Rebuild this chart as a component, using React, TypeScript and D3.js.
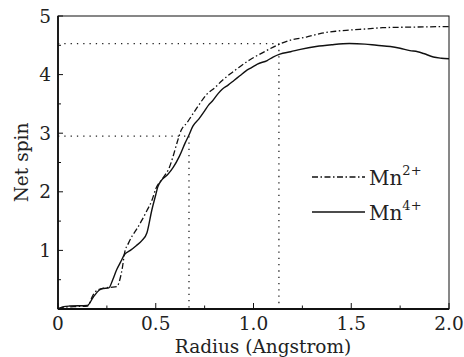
import React from "react";
import * as d3 from "d3";

const mn4X = [0, 0.03, 0.06, 0.15, 0.18, 0.21, 0.23, 0.26, 0.28, 0.30, 0.32, 0.34, 0.37, 0.40, 0.43, 0.455, 0.48, 0.50, 0.51, 0.53, 0.56, 0.59, 0.62, 0.65, 0.67, 0.69, 0.72, 0.75, 0.77, 0.79, 0.82, 0.84, 0.87, 0.90, 0.93, 0.96, 0.99, 1.02, 1.07, 1.10, 1.135, 1.19, 1.24, 1.32, 1.40, 1.49, 1.57, 1.63, 1.70, 1.75, 1.80, 1.84, 1.87, 1.92, 1.96, 2.00];
const mn4Y = [0, 0.04, 0.05, 0.06, 0.2, 0.32, 0.35, 0.36, 0.5, 0.67, 0.8, 0.93, 1.0, 1.08, 1.17, 1.3, 1.69, 1.95, 2.08, 2.2, 2.29, 2.42, 2.6, 2.83, 2.97, 3.12, 3.24, 3.38, 3.48, 3.55, 3.68, 3.75, 3.82, 3.9, 3.98, 4.06, 4.12, 4.18, 4.24, 4.3, 4.35, 4.39, 4.43, 4.48, 4.51, 4.53, 4.52, 4.5, 4.48, 4.45, 4.41, 4.39, 4.36, 4.3, 4.28, 4.27];

const mn2X = [0, 0.03, 0.08, 0.15, 0.18, 0.20, 0.24, 0.27, 0.30, 0.32, 0.33, 0.34, 0.36, 0.38, 0.40, 0.43, 0.455, 0.48, 0.50, 0.54, 0.57, 0.59, 0.61, 0.63, 0.66, 0.68, 0.72, 0.76, 0.80, 0.84, 0.88, 0.92, 0.98, 1.05, 1.12, 1.19, 1.27, 1.34, 1.42, 1.49, 1.58, 1.66, 1.80, 2.00];
const mn2Y = [0, 0.03, 0.04, 0.05, 0.24, 0.32, 0.36, 0.37, 0.38, 0.55, 0.72, 0.95, 1.12, 1.25, 1.35, 1.52, 1.68, 1.85, 2.05, 2.25, 2.42, 2.62, 2.85, 3.05, 3.18, 3.28, 3.48, 3.66, 3.77, 3.9, 4.01, 4.11, 4.25, 4.38, 4.5, 4.59, 4.64, 4.7, 4.74, 4.76, 4.78, 4.8, 4.81, 4.82];

const refX = [0.67, 1.13];
const refY = [2.95, 4.53];

const xTicks = [0, 0.5, 1.0, 1.5, 2.0];
const xTickLabels = ["0", "0.5", "1.0", "1.5", "2.0"];
const xMinor = [0.25, 0.75, 1.25, 1.75];
const yTicks = [1, 2, 3, 4, 5];
const yMinor = [0.5, 1.5, 2.5, 3.5, 4.5];

const W = 464, H = 357;
const L = 58, R = 449, T = 16, B = 309;
const FONT = "'DejaVu Serif', serif";
const txt = { fontFamily: FONT } as React.CSSProperties;

export default function App() {
  const x = d3.scaleLinear().domain([0, 2]).range([L, R]);
  const y = d3.scaleLinear().domain([0, 5]).range([B, T]);
  const line = d3.line<[number, number]>().x(d => x(d[0])).y(d => y(d[1])).curve(d3.curveMonotoneX);
  const mn4 = mn4X.map((v, i) => [v, mn4Y[i]] as [number, number]);
  const mn2 = mn2X.map((v, i) => [v, mn2Y[i]] as [number, number]);

  return (
    <svg width={W} height={H} style={{ position: "absolute", left: 0, top: 0, background: "#fff" }}>
      {refX.map((rx, i) => (
        <g key={"ref" + i} stroke="#222" strokeWidth={1.3} strokeDasharray="1.3,5" fill="none">
          <line x1={L} x2={x(rx)} y1={y(refY[i])} y2={y(refY[i])} />
          <line x1={x(rx)} x2={x(rx)} y1={y(refY[i])} y2={B} />
        </g>
      ))}
      <path d={line(mn2) || ""} fill="none" stroke="#111" strokeWidth={1.3} strokeDasharray="6,2.5,1.5,2.5" />
      <path d={line(mn4) || ""} fill="none" stroke="#111" strokeWidth={1.4} />
      <rect x={L} y={T} width={R - L} height={B - T} fill="none" stroke="#111" strokeWidth={1} />
      <line x1={L} x2={L} y1={T} y2={B} stroke="#111" strokeWidth={1.8} />
      <line x1={L} x2={R} y1={B} y2={B} stroke="#111" strokeWidth={1.8} />
      {xTicks.map((t, i) => (
        <g key={"xt" + i}>
          <line x1={x(t)} x2={x(t)} y1={B} y2={B - 6} stroke="#111" strokeWidth={1} />
          <text x={x(t)} y={330} textAnchor="middle" fontSize={18.5} fill="#222" style={txt}>{xTickLabels[i]}</text>
        </g>
      ))}
      {xMinor.map((t, i) => (
        <line key={"xm" + i} x1={x(t)} x2={x(t)} y1={B} y2={B - 3.5} stroke="#111" strokeWidth={1} />
      ))}
      {yTicks.map((t, i) => (
        <g key={"yt" + i}>
          <line x1={L} x2={L + 5} y1={y(t)} y2={y(t)} stroke="#111" strokeWidth={1} />
          <text x={51} y={y(t) + 6.5} textAnchor="end" fontSize={18.5} fill="#222" style={txt}>{t}</text>
        </g>
      ))}
      {yMinor.map((t, i) => (
        <line key={"ym" + i} x1={L} x2={L + 3} y1={y(t)} y2={y(t)} stroke="#111" strokeWidth={1} />
      ))}
      <text x={263} y={353} textAnchor="middle" fontSize={18.5} fill="#222" style={txt}>Radius (Angstrom)</text>
      <text transform={`translate(28,${(T + B) / 2}) rotate(-90)`} textAnchor="middle" fontSize={18.5} fill="#222" style={txt}>Net spin</text>
      <line x1={312} x2={365} y1={177} y2={177} stroke="#111" strokeWidth={1.3} strokeDasharray="6,2.5,1.5,2.5" />
      <text x={369} y={185} fontSize={20} fill="#222" style={txt}>Mn<tspan dy={-10} fontSize={13}>2+</tspan></text>
      <line x1={312} x2={365} y1={212} y2={212} stroke="#111" strokeWidth={1.4} />
      <text x={369} y={220} fontSize={20} fill="#222" style={txt}>Mn<tspan dy={-10} fontSize={13}>4+</tspan></text>
    </svg>
  );
}
